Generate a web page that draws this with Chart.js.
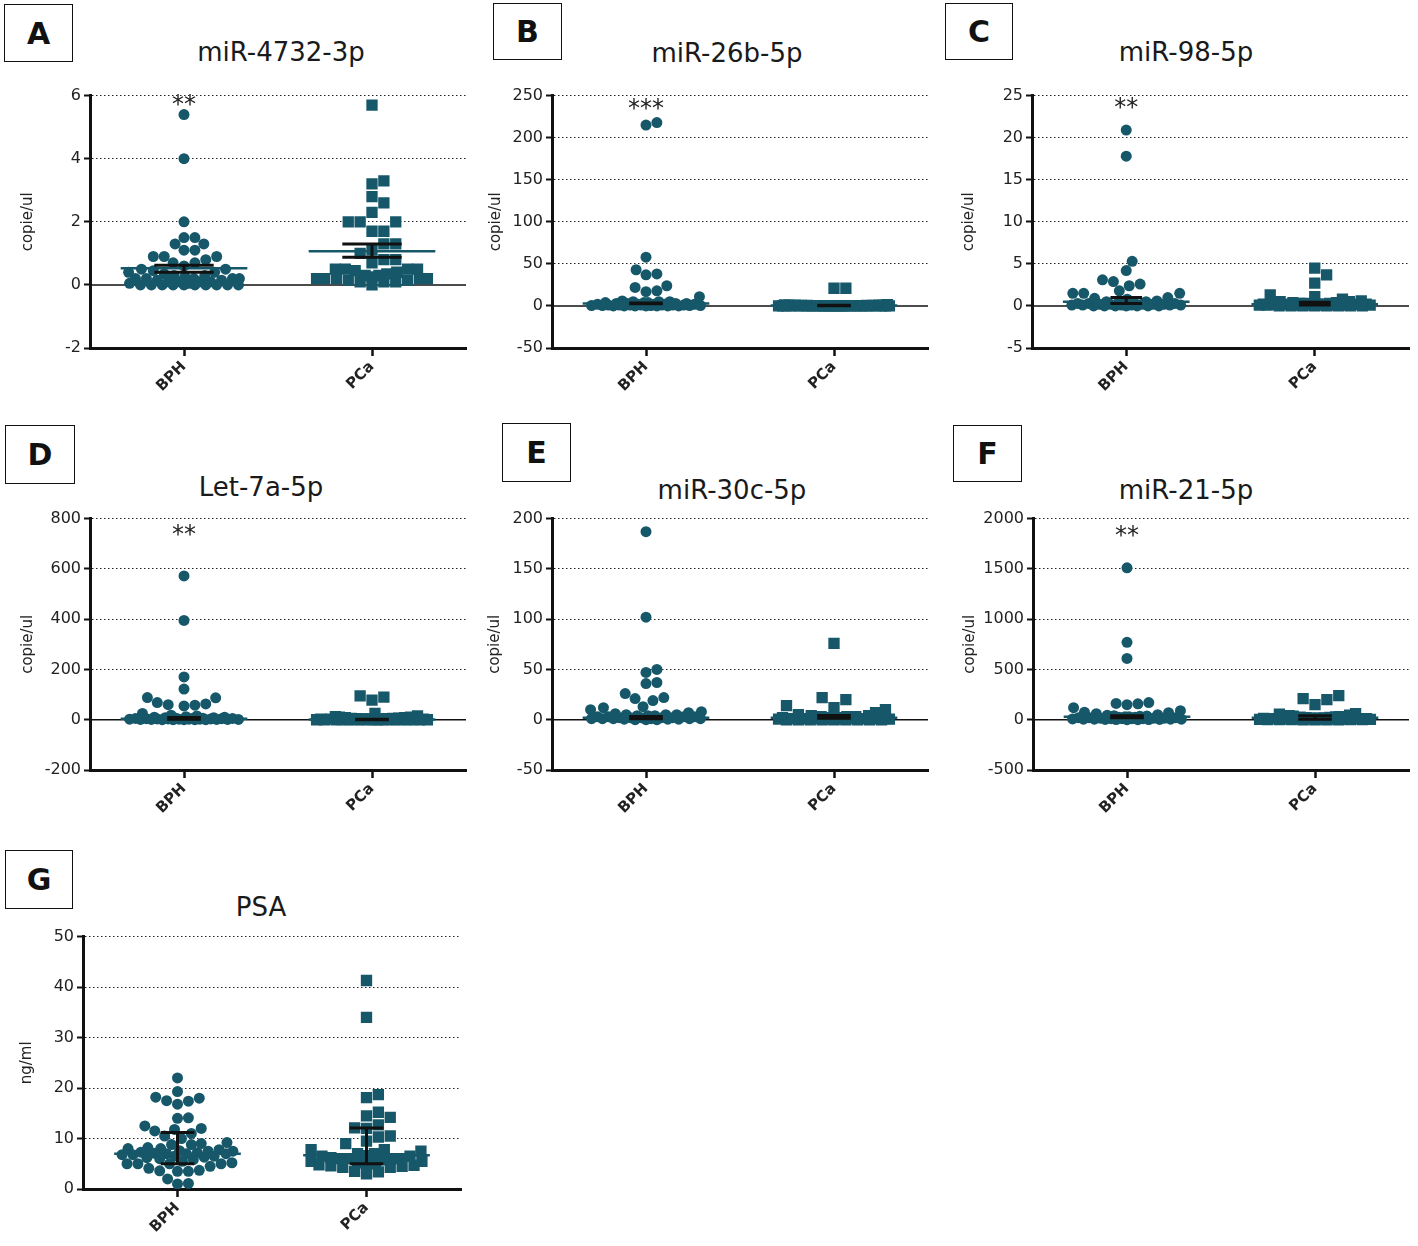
<!DOCTYPE html>
<html>
<head>
<meta charset="utf-8">
<title>miRNA copies and PSA: BPH vs PCa</title>
<script src="https://cdn.jsdelivr.net/npm/chart.js@4.4.1/dist/chart.umd.min.js"></script>
<style>
    body {
        margin: 0;
        width: 1418px;
        height: 1246px;
        position: relative;
        overflow: hidden;
        background: #fff;
        font-family: 'DejaVu Sans', sans-serif;
    }
    .panel-letter {
        position: absolute;
        box-sizing: border-box;
        border: 1.5px solid #111;
        display: flex;
        align-items: center;
        justify-content: center;
        font-weight: bold;
        font-size: 30px;
        color: #111;
    }
    .panel-title {
        position: absolute;
        transform: translateX(-50%);
        font-size: 26px;
        line-height: 1;
        white-space: nowrap;
        color: #1a1a1a;
    }
    .chart-box {
        position: absolute;
    }
</style>
</head>
<body>
<script>
/**
 * Scatter dot plots (BPH vs PCa) for six miRNAs and PSA
 */

const GROUPS = ['BPH', 'PCa'];

// A - miR-4732-3p (copie/ul)
const mir4732Bph = [5.4, 4.0, 2.0, 1.5, 1.5, 1.3, 1.3, 1.1, 1.1, 0.9, 0.9, 0.9, 0.8, 0.7, 0.7, 0.6, 0.5, 0.5, 0.45, 0.4, 0.4, 0.35, 0.3, 0.3, 0.25, 0.2, 0.2, 0.2, 0.2, 0.2, 0.15, 0.15, 0.1, 0.1, 0.1, 0.1, 0.05, 0.05, 0, 0, 0, 0, 0, 0, 0, 0, 0, 0];
const mir4732Pca = [5.7, 3.3, 3.2, 2.8, 2.6, 2.3, 2.0, 2.0, 2.0, 1.7, 1.7, 1.3, 1.3, 1.1, 1.0, 0.8, 0.8, 0.7, 0.5, 0.5, 0.5, 0.5, 0.45, 0.4, 0.35, 0.3, 0.3, 0.25, 0.2, 0.2, 0.2, 0.2, 0.2, 0.15, 0.15, 0.1, 0.1, 0.1, 0.0];
const mir4732Center = [0.53, 1.07];
const mir4732Low = [0.40, 0.88];
const mir4732High = [0.62, 1.30];
const mir4732Ticks = [-2, 0, 2, 4, 6];

// B - miR-26b-5p
const mir26bBph = [218, 215, 58, 43, 38, 37, 24, 22, 18, 17, 11, 6, 5, 5, 5, 4, 4, 4, 3, 3, 3, 3, 2, 2, 2, 2, 2, 1, 1, 1, 1, 1, 1, 1, 0.5, 0.5, 0.5, 0.5, 0.5, 0, 0, 0, 0, 0, 0, 0];
const mir26bPca = [21, 21, 1.5, 1.2, 1, 1, 0.8, 0.8, 0.6, 0.6, 0.5, 0.5, 0.4, 0.4, 0.3, 0.3, 0.3, 0.2, 0.2, 0.2, 0.2, 0.1, 0.1, 0.1, 0.1, 0.1, 0, 0, 0, 0, 0, 0, 0, 0, 0, 0, 0, 0, 0, 0, 0, 0];
const mir26bCenter = [3.0, 0.5];
const mir26bLow = [2.6, 0.2];
const mir26bHigh = [3.6, 0.8];
const mir26bTicks = [-50, 0, 50, 100, 150, 200, 250];

// C - miR-98-5p
const mir98Bph = [20.9, 17.8, 5.3, 4.2, 3.1, 2.9, 2.6, 2.4, 1.8, 1.5, 1.5, 1.5, 1.0, 0.9, 0.8, 0.6, 0.5, 0.5, 0.4, 0.4, 0.3, 0.3, 0.3, 0.2, 0.2, 0.2, 0.2, 0.2, 0.1, 0.1, 0.1, 0.1, 0.1, 0.1, 0, 0, 0, 0, 0, 0, 0];
const mir98Pca = [4.5, 3.7, 2.7, 1.3, 1.1, 0.8, 0.6, 0.5, 0.5, 0.4, 0.4, 0.3, 0.3, 0.3, 0.2, 0.2, 0.2, 0.2, 0.2, 0.2, 0.2, 0.2, 0.1, 0.1, 0.1, 0.1, 0.1, 0.1, 0.1, 0.1, 0, 0, 0, 0, 0, 0, 0, 0];
const mir98Center = [0.5, 0.2];
const mir98Low = [0.3, 0.1];
const mir98High = [1.0, 0.45];
const mir98Ticks = [-5, 0, 5, 10, 15, 20, 25];

// D - Let-7a-5p
const let7aBph = [572, 395, 170, 122, 88, 87, 68, 63, 60, 58, 55, 25, 18, 15, 12, 10, 10, 8, 8, 6, 6, 5, 5, 5, 4, 4, 3, 3, 3, 2, 2, 2, 2, 1, 1, 1, 1, 1, 0, 0, 0, 0, 0];
const let7aPca = [95, 90, 78, 25, 15, 12, 10, 10, 8, 8, 6, 5, 5, 4, 4, 3, 3, 3, 2, 2, 2, 2, 1, 1, 1, 1, 1, 1, 0, 0, 0, 0, 0, 0, 0, 0, 0, 0, 0, 0];
const let7aCenter = [4, 1];
const let7aLow = [2, 0];
const let7aHigh = [9, 2];
const let7aTicks = [-200, 0, 200, 400, 600, 800];

// E - miR-30c-5p
const mir30cBph = [187, 102, 50, 47, 37, 36, 26, 22, 21, 19, 13, 12, 10, 8, 7, 6, 5, 5, 5, 4, 4, 4, 3, 3, 3, 3, 2, 2, 2, 2, 2, 1, 1, 1, 1, 1, 1, 0.5, 0.5, 0.5, 0, 0, 0];
const mir30cPca = [76, 22, 20, 14, 12, 10, 7, 5, 4, 4, 3, 3, 3, 2, 2, 2, 2, 2, 1, 1, 1, 1, 1, 1, 1, 0.5, 0.5, 0.5, 0.5, 0, 0, 0, 0, 0, 0, 0, 0, 0];
const mir30cCenter = [2, 2];
const mir30cLow = [1, 1.5];
const mir30cHigh = [3.3, 4.3];
const mir30cTicks = [-50, 0, 50, 100, 150, 200];

// F - miR-21-5p
const mir21Bph = [1510, 770, 610, 170, 162, 158, 150, 120, 90, 75, 70, 60, 50, 45, 40, 38, 35, 30, 30, 25, 25, 20, 20, 20, 15, 15, 15, 10, 10, 10, 10, 8, 5, 5, 5, 5, 3, 3, 2, 1, 0, 0];
const mir21Pca = [240, 210, 200, 150, 60, 55, 45, 40, 35, 30, 28, 25, 22, 20, 18, 15, 15, 12, 10, 10, 8, 8, 6, 5, 5, 5, 4, 3, 3, 2, 2, 1, 1, 1, 0, 0, 0, 0];
const mir21Center = [30, 20];
const mir21Low = [20, 5];
const mir21High = [40, 40];
const mir21Ticks = [-500, 0, 500, 1000, 1500, 2000];

// G - PSA (ng/ml)
const psaBph = [22, 19.3, 18.2, 18, 17.5, 17.4, 16.8, 14.1, 14, 12.5, 12, 11.8, 11.5, 11, 10.5, 10, 9.2, 9, 8.8, 8.8, 8.2, 8, 8, 7.8, 7.6, 7.5, 7.5, 7.3, 7.2, 7.1, 7, 7, 7, 6.8, 6.8, 6.5, 6.5, 6.3, 6.2, 6, 5.8, 5.5, 5.2, 5, 5, 5, 5, 4.5, 4.1, 3.7, 3.5, 3.5, 3.6, 2, 1, 1.1];
const psaPca = [41.3, 34, 18.7, 18.1, 15.2, 14.5, 14.2, 12.7, 12.1, 12, 10.5, 10.3, 9.5, 9, 7.8, 7.8, 7.5, 7, 7, 6.6, 6.5, 6.5, 6.2, 6, 6, 6, 6, 5.8, 5.5, 5.5, 5.2, 5, 5, 4.8, 4.7, 4.6, 4.5, 4.3, 4.3, 3.5, 3.4, 3.0];
const psaCenter = [7.0, 6.7];
const psaLow = [5.0, 5.0];
const psaHigh = [11.2, 12.1];
const psaTicks = [0, 10, 20, 30, 40, 50];

const TEAL = '#16586a';
const INK = '#111';

// fixed layout around each plot area
const AXIS_W = 80;      // room left of the y axis (labels + title)
const PAD_TOP = 12;
const PAD_RIGHT = 4;
const XAXIS_H = 60;     // room under the x axis for rotated labels
const MEAN_HALF = 64;   // half width of the teal centre line, px
const SWARM_HALF = 56;  // max horizontal spread of the dots, px

Chart.defaults.font.family = "'DejaVu Sans', sans-serif";

const PANELS = [
    { letter: 'A', box: [4, 4, 69, 58], title: 'miR-4732-3p', titlePos: [281, 51], yTitle: 'copie/ul',
      axisX: 90, top: 95, bottom: 348, right: 470, yTitleDist: 62, stars: '**', starsDy: 3, barHalf: 30,
      bph: mir4732Bph, pca: mir4732Pca, center: mir4732Center, low: mir4732Low, high: mir4732High, ticks: mir4732Ticks },
    { letter: 'B', box: [493, 3, 69, 57], title: 'miR-26b-5p', titlePos: [727, 52], yTitle: 'copie/ul',
      axisX: 552, top: 95, bottom: 348, right: 932, yTitleDist: 56, stars: '***', starsDy: 7, barHalf: 17,
      bph: mir26bBph, pca: mir26bPca, center: mir26bCenter, low: mir26bLow, high: mir26bHigh, ticks: mir26bTicks },
    { letter: 'C', box: [945, 3, 68, 57], title: 'miR-98-5p', titlePos: [1186, 51], yTitle: 'copie/ul',
      axisX: 1032, top: 95, bottom: 348, right: 1413, yTitleDist: 63, stars: '**', starsDy: 6, barHalf: 16,
      bph: mir98Bph, pca: mir98Pca, center: mir98Center, low: mir98Low, high: mir98High, ticks: mir98Ticks },
    { letter: 'D', box: [5, 425, 70, 59], title: 'Let-7a-5p', titlePos: [261, 486], yTitle: 'copie/ul',
      axisX: 90, top: 518, bottom: 770, right: 470, yTitleDist: 62, stars: '**', starsDy: 10, barHalf: 17,
      bph: let7aBph, pca: let7aPca, center: let7aCenter, low: let7aLow, high: let7aHigh, ticks: let7aTicks },
    { letter: 'E', box: [502, 423, 69, 59], title: 'miR-30c-5p', titlePos: [732, 489], yTitle: 'copie/ul',
      axisX: 552, top: 518, bottom: 770, right: 932, yTitleDist: 57, stars: null, starsDy: 0, barHalf: 17,
      bph: mir30cBph, pca: mir30cPca, center: mir30cCenter, low: mir30cLow, high: mir30cHigh, ticks: mir30cTicks },
    { letter: 'F', box: [953, 425, 69, 57], title: 'miR-21-5p', titlePos: [1186, 489], yTitle: 'copie/ul',
      axisX: 1033, top: 518, bottom: 770, right: 1413, yTitleDist: 63, stars: '**', starsDy: 11, barHalf: 17,
      bph: mir21Bph, pca: mir21Pca, center: mir21Center, low: mir21Low, high: mir21High, ticks: mir21Ticks },
    { letter: 'G', box: [5, 850, 68, 59], title: 'PSA', titlePos: [261, 906], yTitle: 'ng/ml',
      axisX: 83, top: 936, bottom: 1189, right: 465, yTitleDist: 56, stars: null, starsDy: 0, barHalf: 17,
      bph: psaBph, pca: psaPca, center: psaCenter, low: psaLow, high: psaHigh, ticks: psaTicks }
];

/**
 * Beeswarm offsets (px) for one column: each dot goes to the free spot
 * closest to the centre; when the column is full it takes the least crowded spot.
 */
function swarmOffsets(values, pxPerY, size, square) {
    const order = values.map((v, i) => i).sort((a, b) => values[a] - values[b]);
    const cands = [0];
    for (let o = 1; o <= SWARM_HALF; o++) cands.push(o, -o);
    const placed = [];
    const offs = new Array(values.length).fill(0);

    for (const i of order) {
        const y = values[i] * pxPerY;
        let best = 0, bestGap = -1;
        for (const c of cands) {
            let gap = Infinity;
            for (const p of placed) {
                const dy = Math.abs(p.y - y);
                if (dy >= size) continue;
                const dx = Math.abs(p.x - c);
                const d = square ? Math.max(dx, dy) : Math.hypot(dx, dy);
                if (d < gap) gap = d;
            }
            if (gap >= size) { best = c; bestGap = gap; break; }
            if (gap > bestGap) { bestGap = gap; best = c; }
        }
        placed.push({ x: best, y: y });
        offs[i] = best;
    }
    return offs;
}

function addDiv(cls, text, css) {
    const el = document.createElement('div');
    el.className = cls;
    el.textContent = text;
    Object.assign(el.style, css);
    document.body.appendChild(el);
    return el;
}

function errorBarPath(g, lo, hi, w) {
    const c = g + 1;
    return [
        { x: c - w, y: hi }, { x: c + w, y: hi }, { x: c, y: null },
        { x: c, y: hi }, { x: c, y: lo }, { x: c, y: null },
        { x: c - w, y: lo }, { x: c + w, y: lo }
    ];
}

/**
 * Build one lettered panel
 */
function buildPanel(p) {
    const [bl, bt, bw, bh] = p.box;
    addDiv('panel-letter', p.letter, { left: bl + 'px', top: bt + 'px', width: bw + 'px', height: bh + 'px' });
    addDiv('panel-title', p.title, { left: p.titlePos[0] + 'px', top: (p.titlePos[1] - 12.5) + 'px' });

    const yMin = p.ticks[0];
    const yMax = p.ticks[p.ticks.length - 1];
    const plotW = p.right - p.axisX;
    const plotH = p.bottom - p.top;
    const pxPerX = plotW / 2;
    const pxPerY = plotH / (yMax - yMin);

    const wrap = document.createElement('div');
    wrap.className = 'chart-box';
    wrap.style.left = (p.axisX - AXIS_W) + 'px';
    wrap.style.top = (p.top - PAD_TOP) + 'px';
    const canvas = document.createElement('canvas');
    canvas.width = AXIS_W + plotW + PAD_RIGHT;
    canvas.height = PAD_TOP + plotH + XAXIS_H;
    wrap.appendChild(canvas);
    document.body.appendChild(wrap);

    const bphOffs = swarmOffsets(p.bph, pxPerY, 11, false);
    const pcaOffs = swarmOffsets(p.pca, pxPerY, 11.5, true);
    const meanW = MEAN_HALF / pxPerX;
    const barW = p.barHalf / pxPerX;

    const datasets = [];
    // black error bars on top
    [0, 1].forEach(g => {
        datasets.push({
            type: 'line', order: 0,
            data: errorBarPath(g, p.low[g], p.high[g], barW),
            borderColor: INK, borderWidth: 3, pointRadius: 0, spanGaps: false
        });
    });
    // teal centre lines
    [0, 1].forEach(g => {
        datasets.push({
            type: 'line', order: 1,
            data: [{ x: g + 1 - meanW, y: p.center[g] }, { x: g + 1 + meanW, y: p.center[g] }],
            borderColor: TEAL, borderWidth: 2.5, pointRadius: 0
        });
    });
    datasets.push({
        label: GROUPS[0], order: 2,
        data: p.bph.map((v, i) => ({ x: 1 + bphOffs[i] / pxPerX, y: v })),
        pointStyle: 'circle', pointRadius: 5.5, backgroundColor: TEAL, borderWidth: 0
    });
    datasets.push({
        label: GROUPS[1], order: 2,
        data: p.pca.map((v, i) => ({ x: 2 + pcaOffs[i] / pxPerX, y: v })),
        pointStyle: 'rect', pointRadius: 8, backgroundColor: TEAL, borderWidth: 0
    });
    // zero reference line
    datasets.push({
        type: 'line', order: 3,
        data: [{ x: 0.5, y: 0 }, { x: 2.5, y: 0 }],
        borderColor: INK, borderWidth: 1.5, pointRadius: 0
    });

    const starsPlugin = {
        id: 'stars',
        afterDatasetsDraw(chart) {
            if (!p.stars) return;
            const { ctx, chartArea } = chart;
            const x = chart.scales.x.getPixelForValue(1);
            ctx.save();
            ctx.font = "24px 'DejaVu Sans'";
            ctx.fillStyle = '#222';
            ctx.textAlign = 'center';
            ctx.textBaseline = 'alphabetic';
            ctx.fillText(p.stars, x, chartArea.top + p.starsDy + 13);
            ctx.restore();
        }
    };

    new Chart(canvas, {
        type: 'scatter',
        data: { datasets: datasets },
        options: {
            responsive: false,
            animation: false,
            devicePixelRatio: 1,
            events: [],
            layout: { padding: { top: PAD_TOP, right: PAD_RIGHT, left: 0, bottom: 0 } },
            plugins: {
                legend: { display: false },
                tooltip: { enabled: false }
            },
            scales: {
                x: {
                    type: 'linear',
                    min: 0.5,
                    max: 2.5,
                    afterBuildTicks: scale => { scale.ticks = GROUPS.map((g, i) => ({ value: i + 1 })); },
                    afterFit: scale => { scale.height = XAXIS_H; },
                    ticks: {
                        callback: v => GROUPS[v - 1],
                        minRotation: 45,
                        maxRotation: 45,
                        padding: 2,
                        color: '#222',
                        font: { size: 15, weight: 'bold' }
                    },
                    grid: {
                        drawOnChartArea: false,
                        drawTicks: true,
                        tickLength: 8,
                        tickWidth: 2.5,
                        tickColor: INK
                    },
                    border: { color: INK, width: 3 }
                },
                y: {
                    min: yMin,
                    max: yMax,
                    afterBuildTicks: scale => { scale.ticks = p.ticks.map(v => ({ value: v })); },
                    afterFit: scale => { scale.width = AXIS_W; },
                    ticks: {
                        callback: v => String(v),
                        padding: 3,
                        color: '#222',
                        font: { size: 16 }
                    },
                    grid: {
                        color: ctx => (ctx.tick && (ctx.tick.value === 0 || ctx.tick.value === yMin)) ? 'rgba(0,0,0,0)' : '#222',
                        lineWidth: 1,
                        tickLength: 6,
                        tickWidth: 2,
                        tickColor: INK
                    },
                    border: { color: INK, width: 3, dash: [1.5, 2.5] },
                    title: {
                        display: true,
                        text: p.yTitle,
                        color: '#222',
                        font: { size: 15 },
                        padding: { top: AXIS_W - p.yTitleDist - 9, bottom: 0 }
                    }
                }
            }
        },
        plugins: [starsPlugin]
    });
}

PANELS.forEach(buildPanel);
</script>
</body>
</html>
